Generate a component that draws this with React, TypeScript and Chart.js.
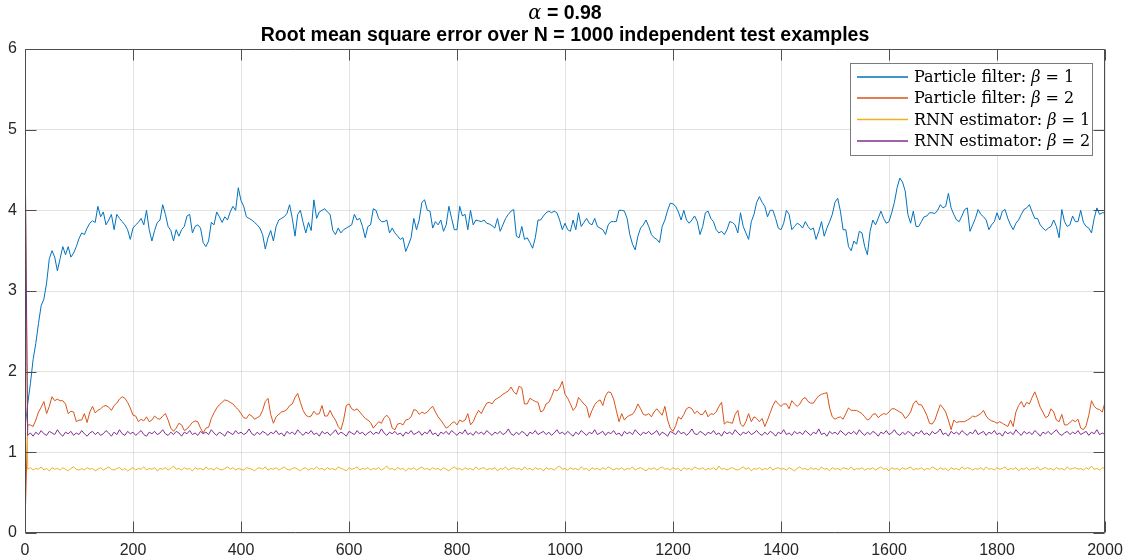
import React, { useEffect, useRef } from "react";
import { Chart, registerables } from "chart.js";

Chart.register(...registerables);

// ---------------- data ----------------
const STEP = 5; // sample spacing on the x axis (time step index)
const xTickValues = [0, 200, 400, 600, 800, 1000, 1200, 1400, 1600, 1800, 2000];
const yTickValues = [0, 1, 2, 3, 4, 5, 6];
const X_MIN = 0;
const X_MAX = 2000;
const Y_MIN = 0;
const Y_MAX = 6;

const titleSymbol = "α";
const titleRest = " = 0.98";
const titleLine2 = "Root mean square error over N = 1000 independent test examples";

const seriesNames = ["Particle filter: ", "Particle filter: ", "RNN estimator: ", "RNN estimator: "];
const seriesSymbol = ["β", "β", "β", "β"];
const seriesSuffix = [" = 1", " = 2", " = 1", " = 2"];
const seriesColors = ["#0072BD", "#D95319", "#EDB120", "#7E2F8E"];

const pfBeta1 = [
  1.3, 1.6, 1.85, 2.15, 2.35, 2.6, 2.82, 2.9, 3.1, 3.4,
  3.5, 3.42, 3.25, 3.4, 3.55, 3.45, 3.55, 3.42, 3.47, 3.55,
  3.65, 3.72, 3.7, 3.78, 3.84, 3.87, 3.85, 4.05, 3.92, 3.98,
  3.82, 3.88, 3.95, 3.76, 3.95, 3.9, 3.86, 3.82, 3.76, 3.64,
  3.78, 3.82, 3.85, 3.9, 3.82, 4.0, 3.76, 3.62, 3.75, 3.85,
  3.88, 4.07, 3.95, 3.8, 3.75, 3.62, 3.76, 3.68, 3.76, 3.8,
  3.93, 3.95, 3.72, 3.8, 3.82, 3.78, 3.6, 3.55, 3.62, 3.85,
  3.82, 3.98, 3.92, 3.85, 3.92, 3.88, 3.98, 4.05, 4.0, 4.28,
  4.12, 4.05, 3.92, 3.9, 3.88, 3.85, 3.82, 3.78, 3.7, 3.52,
  3.66, 3.75, 3.62, 3.8, 3.88, 3.9, 3.92, 3.96, 4.07, 3.9,
  3.68, 3.95, 4.0, 3.85, 3.72, 3.85, 3.75, 4.13, 3.9, 3.98,
  4.0, 4.02, 3.98, 3.95, 3.75, 3.7, 3.78, 3.72, 3.76, 3.78,
  3.8, 3.82, 3.95, 3.88, 3.9, 3.8, 3.66, 3.8, 3.82, 4.02,
  4.0, 3.9, 3.86, 3.86, 3.88, 3.72, 3.78, 3.72, 3.68, 3.64,
  3.66, 3.49, 3.57, 3.66, 3.9, 3.76, 3.88, 4.1, 4.13, 4.0,
  3.99, 3.78, 3.86, 3.82, 3.88, 3.74, 3.82, 4.05, 3.9, 3.76,
  3.76, 4.05, 3.93, 3.95, 3.76, 4.0, 3.82, 3.88, 3.87, 3.86,
  3.88, 3.84, 3.83, 3.81, 3.78, 3.9, 3.74, 3.82, 3.9, 3.95,
  3.99, 4.01, 3.68, 3.66, 3.8, 3.64, 3.66, 3.6, 3.53, 3.66,
  3.88, 3.88, 3.93, 3.97, 3.99, 3.97, 3.99, 3.97, 3.88, 3.76,
  3.84, 3.76, 3.74, 3.88, 3.76, 3.97, 3.8, 3.85, 3.9, 3.84,
  3.82, 3.9, 3.8, 3.78, 3.76, 3.7, 3.82, 3.86, 3.86, 3.86,
  4.0, 4.0, 3.99, 3.9, 3.7, 3.58, 3.51, 3.68, 3.78, 3.82,
  3.88, 3.8, 3.7, 3.66, 3.64, 3.6, 3.8, 3.88, 4.0, 4.09,
  4.08, 4.05, 3.98, 3.88, 4.0, 3.88, 3.84, 3.88, 3.93, 3.86,
  3.7, 3.8, 3.97, 3.99, 3.9, 3.86, 3.76, 3.72, 3.74, 3.7,
  3.76, 3.86, 3.85, 3.82, 3.72, 3.97, 3.8, 3.72, 3.64, 3.86,
  3.95, 4.1, 4.17, 4.1, 4.05, 3.92, 4.0, 4.0, 3.9, 3.78,
  3.76, 3.84, 4.0, 3.95, 3.76, 3.8, 3.84, 3.82, 3.78, 3.86,
  3.8, 3.76, 3.78, 3.64, 3.74, 3.86, 3.68, 3.78, 3.86, 3.95,
  4.1, 4.15, 3.99, 3.76, 3.76, 3.55, 3.5, 3.62, 3.58, 3.74,
  3.72, 3.55, 3.45, 3.74, 3.88, 3.82, 3.9, 3.99, 3.9, 3.84,
  3.86, 3.97, 4.1, 4.28, 4.4, 4.35, 4.24, 3.95, 3.84, 3.99,
  3.8, 3.8, 3.86, 3.92, 3.93, 3.97, 3.97, 3.96, 4.0, 4.07,
  4.03, 4.05, 4.21, 4.03, 3.95, 3.88, 3.86, 3.93, 4.01, 4.03,
  3.74, 3.82, 3.9, 4.01, 3.95, 3.92, 3.88, 3.76, 3.82, 3.86,
  3.97, 3.88, 3.99, 4.01, 3.9, 3.82, 3.76, 3.84, 3.88, 3.95,
  4.01, 4.03, 4.07, 3.98, 3.9, 3.9, 3.82, 3.78, 3.75, 3.78,
  3.8, 3.88, 3.8, 3.66, 4.01, 3.86, 3.8, 3.82, 3.93, 3.86,
  3.86, 4.0, 3.85, 3.8, 3.78, 3.72, 3.9, 4.03, 3.95, 3.97,
  3.97,
];

const pfBeta2 = [
  0.1, 1.34, 1.34, 1.32, 1.4, 1.5, 1.56, 1.63, 1.48, 1.57,
  1.69, 1.64, 1.66, 1.64, 1.64, 1.6, 1.48, 1.51, 1.5, 1.38,
  1.4, 1.4, 1.48, 1.37, 1.5, 1.57, 1.49, 1.52, 1.54, 1.57,
  1.58, 1.56, 1.52, 1.58, 1.61, 1.66, 1.69, 1.67, 1.62, 1.55,
  1.46, 1.45, 1.38, 1.41, 1.39, 1.44, 1.38, 1.4, 1.45, 1.42,
  1.41, 1.45, 1.48, 1.4, 1.3, 1.26, 1.3, 1.36, 1.34, 1.27,
  1.29, 1.33, 1.37, 1.39, 1.38, 1.3, 1.24, 1.3, 1.31, 1.42,
  1.49, 1.55, 1.59, 1.62, 1.65, 1.64, 1.62, 1.6, 1.56, 1.53,
  1.48, 1.43, 1.42, 1.47, 1.45, 1.41, 1.43, 1.45, 1.52, 1.63,
  1.67, 1.47, 1.36, 1.44, 1.47, 1.5, 1.51, 1.53, 1.58, 1.6,
  1.68, 1.73, 1.62, 1.52, 1.46, 1.44, 1.45, 1.51, 1.47, 1.48,
  1.58, 1.45, 1.45, 1.52, 1.45, 1.4, 1.32, 1.28, 1.4, 1.58,
  1.6, 1.54, 1.52, 1.54, 1.5, 1.46, 1.42, 1.4, 1.37, 1.3,
  1.34, 1.38, 1.36, 1.43, 1.46, 1.42, 1.3, 1.28, 1.35, 1.36,
  1.34, 1.4, 1.41, 1.44, 1.53, 1.52, 1.47, 1.5, 1.48, 1.5,
  1.54, 1.57, 1.5, 1.44, 1.4, 1.35, 1.3, 1.32, 1.36, 1.38,
  1.34, 1.4, 1.38, 1.4, 1.48, 1.34, 1.38, 1.46, 1.52, 1.48,
  1.55, 1.61, 1.62, 1.6, 1.65, 1.67, 1.69, 1.72, 1.74, 1.76,
  1.81, 1.75, 1.72, 1.82, 1.8, 1.6, 1.6, 1.67, 1.65, 1.63,
  1.62, 1.5, 1.52, 1.6, 1.62, 1.69, 1.78, 1.76, 1.8, 1.88,
  1.72, 1.67, 1.6, 1.52, 1.56, 1.68, 1.64, 1.6, 1.57, 1.43,
  1.52, 1.59, 1.63, 1.65, 1.58, 1.7, 1.75, 1.74, 1.66, 1.52,
  1.38, 1.48, 1.4, 1.44, 1.46, 1.47, 1.52, 1.6, 1.54, 1.47,
  1.46, 1.48, 1.44, 1.5, 1.54, 1.5, 1.46, 1.57, 1.4, 1.3,
  1.26, 1.33, 1.44, 1.41, 1.47, 1.54, 1.56, 1.54, 1.48, 1.51,
  1.47, 1.47, 1.52, 1.44, 1.48, 1.47, 1.5, 1.57, 1.62, 1.35,
  1.38, 1.37, 1.36, 1.47, 1.52, 1.35, 1.32, 1.38, 1.48, 1.38,
  1.44, 1.42, 1.38, 1.42, 1.32, 1.4, 1.49, 1.58, 1.64, 1.6,
  1.57, 1.6, 1.6, 1.54, 1.64, 1.6, 1.57, 1.6, 1.66, 1.68,
  1.63, 1.61, 1.61, 1.66, 1.7, 1.72, 1.73, 1.74, 1.55, 1.44,
  1.41, 1.43, 1.44, 1.41, 1.48, 1.55, 1.52, 1.52, 1.52, 1.5,
  1.48, 1.44, 1.4, 1.42, 1.47, 1.48, 1.43, 1.46, 1.48, 1.47,
  1.5, 1.54, 1.54, 1.52, 1.5, 1.48, 1.42, 1.45, 1.5, 1.6,
  1.64, 1.59, 1.59, 1.53, 1.46, 1.36, 1.35, 1.4, 1.5, 1.59,
  1.55, 1.5, 1.4, 1.28, 1.4, 1.37, 1.38, 1.38, 1.38, 1.4,
  1.42, 1.45, 1.44, 1.46, 1.48, 1.52, 1.45, 1.41, 1.39, 1.38,
  1.36, 1.38, 1.36, 1.34, 1.32, 1.4, 1.32, 1.5, 1.58, 1.63,
  1.56, 1.62, 1.6, 1.68, 1.75, 1.66, 1.56, 1.5, 1.43, 1.45,
  1.54, 1.5, 1.4, 1.38, 1.47, 1.34, 1.34, 1.37, 1.4, 1.38,
  1.41, 1.3, 1.28, 1.33, 1.46, 1.64, 1.57, 1.54, 1.53, 1.5,
  1.62,
];

const rnnBeta1 = [
  5.05,
  0.79, 0.81, 0.78, 0.8, 0.79, 0.82, 0.78, 0.8, 0.77, 0.81,
  0.79, 0.8, 0.78, 0.81, 0.79, 0.77, 0.8, 0.82, 0.79, 0.78,
  0.8, 0.78, 0.81, 0.79, 0.8, 0.77, 0.79, 0.81, 0.78, 0.8,
  0.82, 0.79, 0.78, 0.8, 0.81, 0.78, 0.8, 0.77, 0.79, 0.81,
  0.78, 0.8, 0.79, 0.82, 0.78, 0.8, 0.79, 0.81, 0.77, 0.8,
  0.79, 0.81, 0.78, 0.8, 0.83, 0.79, 0.8, 0.78, 0.81, 0.79,
  0.8, 0.77, 0.81, 0.79, 0.8, 0.78, 0.82, 0.79, 0.8, 0.78,
  0.81, 0.79, 0.78, 0.8, 0.82, 0.79, 0.81, 0.78, 0.8, 0.79,
  0.78, 0.81, 0.8, 0.79, 0.77, 0.8, 0.81, 0.79, 0.82, 0.78,
  0.8, 0.79, 0.81, 0.78, 0.8, 0.82, 0.79, 0.78, 0.8, 0.81,
  0.79, 0.77, 0.8, 0.81, 0.78, 0.8, 0.79, 0.82, 0.79, 0.8,
  0.78, 0.81, 0.79, 0.8, 0.78, 0.82, 0.8, 0.79, 0.77, 0.81,
  0.79, 0.8, 0.82, 0.78, 0.8, 0.79, 0.81, 0.78, 0.8, 0.79,
  0.81, 0.78, 0.8, 0.83, 0.79, 0.8, 0.78, 0.81, 0.79, 0.8,
  0.77, 0.8, 0.79, 0.81, 0.78, 0.8, 0.82, 0.79, 0.8, 0.78,
  0.81, 0.79, 0.8, 0.78, 0.81, 0.79, 0.77, 0.8, 0.82, 0.79,
  0.8, 0.78, 0.81, 0.79, 0.8, 0.78, 0.82, 0.79, 0.8, 0.81,
  0.78, 0.8, 0.79, 0.81, 0.77, 0.8, 0.79, 0.82, 0.78, 0.8,
  0.81, 0.79, 0.8, 0.78, 0.82, 0.79, 0.8, 0.78, 0.81, 0.79,
  0.8, 0.77, 0.81, 0.79, 0.8, 0.78, 0.81, 0.83, 0.79, 0.8,
  0.78, 0.81, 0.79, 0.8, 0.78, 0.82, 0.79, 0.8, 0.77, 0.81,
  0.79, 0.8, 0.78, 0.81, 0.79, 0.82, 0.8, 0.78, 0.8, 0.79,
  0.81, 0.78, 0.8, 0.79, 0.82, 0.78, 0.8, 0.81, 0.79, 0.77,
  0.8, 0.79, 0.81, 0.78, 0.8, 0.82, 0.79, 0.8, 0.78, 0.81,
  0.79, 0.8, 0.77, 0.81, 0.79, 0.8, 0.78, 0.82, 0.8, 0.79,
  0.81, 0.78, 0.8, 0.79, 0.81, 0.78, 0.83, 0.79, 0.8, 0.78,
  0.8, 0.81, 0.79, 0.78, 0.8, 0.82, 0.79, 0.81, 0.77, 0.8,
  0.79, 0.81, 0.78, 0.8, 0.79, 0.82, 0.78, 0.8, 0.81, 0.79,
  0.8, 0.78, 0.81, 0.79, 0.77, 0.8, 0.82, 0.79, 0.8, 0.78,
  0.81, 0.79, 0.8, 0.78, 0.82, 0.79, 0.8, 0.77, 0.81, 0.79,
  0.8, 0.78, 0.81, 0.8, 0.79, 0.82, 0.78, 0.8, 0.79, 0.81,
  0.78, 0.8, 0.79, 0.81, 0.78, 0.8, 0.82, 0.79, 0.8, 0.77,
  0.81, 0.79, 0.8, 0.78, 0.81, 0.79, 0.8, 0.82, 0.78, 0.8,
  0.79, 0.81, 0.78, 0.8, 0.79, 0.82, 0.8, 0.78, 0.81, 0.79,
  0.8, 0.77, 0.81, 0.79, 0.8, 0.78, 0.82, 0.79, 0.81, 0.8,
  0.78, 0.8, 0.79, 0.81, 0.78, 0.82, 0.79, 0.8, 0.78, 0.81,
  0.79, 0.8, 0.82, 0.78, 0.8, 0.79, 0.81, 0.77, 0.8, 0.79,
  0.81, 0.78, 0.8, 0.79, 0.82, 0.78, 0.8, 0.81, 0.79, 0.8,
  0.78, 0.81, 0.79, 0.8, 0.78, 0.82, 0.79, 0.8, 0.81, 0.79,
  0.8, 0.78, 0.81, 0.79, 0.83, 0.79, 0.8, 0.78, 0.81, 0.8,
];

const rnnBeta2 = [
  4.9,
  1.21, 1.24, 1.2, 1.25, 1.22, 1.27, 1.23, 1.21, 1.26, 1.24,
  1.22, 1.28, 1.23, 1.2, 1.25, 1.23, 1.26, 1.21, 1.24, 1.22,
  1.27, 1.23, 1.2, 1.24, 1.26, 1.22, 1.25, 1.21, 1.23, 1.27,
  1.24, 1.2, 1.25, 1.22, 1.28, 1.23, 1.21, 1.26, 1.23, 1.25,
  1.21, 1.24, 1.27, 1.22, 1.2, 1.25, 1.23, 1.26, 1.22, 1.24,
  1.28, 1.23, 1.21, 1.25, 1.22, 1.26, 1.24, 1.2, 1.25, 1.23,
  1.27, 1.22, 1.24, 1.21, 1.26, 1.23, 1.25, 1.22, 1.28, 1.24,
  1.21, 1.25, 1.23, 1.2, 1.26, 1.24, 1.22, 1.27, 1.23, 1.25,
  1.22, 1.24, 1.29, 1.23, 1.21, 1.25, 1.22, 1.26, 1.24, 1.21,
  1.25, 1.23, 1.27, 1.22, 1.24, 1.2, 1.26, 1.23, 1.25, 1.22,
  1.28, 1.24, 1.21, 1.25, 1.23, 1.27, 1.22, 1.24, 1.2, 1.26,
  1.23, 1.25, 1.21, 1.24, 1.28, 1.22, 1.25, 1.23, 1.2, 1.26,
  1.24, 1.22, 1.27, 1.23, 1.25, 1.21, 1.24, 1.26, 1.22, 1.25,
  1.23, 1.29, 1.24, 1.21, 1.25, 1.23, 1.26, 1.22, 1.24, 1.2,
  1.25, 1.23, 1.27, 1.22, 1.24, 1.26, 1.21, 1.25, 1.23, 1.28,
  1.22, 1.24, 1.2, 1.25, 1.23, 1.26, 1.22, 1.27, 1.24, 1.21,
  1.25, 1.23, 1.28, 1.22, 1.24, 1.21, 1.26, 1.23, 1.25, 1.22,
  1.27, 1.24, 1.21, 1.25, 1.23, 1.26, 1.22, 1.24, 1.29, 1.23,
  1.21, 1.25, 1.22, 1.26, 1.24, 1.2, 1.25, 1.23, 1.27, 1.22,
  1.24, 1.26, 1.22, 1.25, 1.21, 1.24, 1.28, 1.23, 1.25, 1.22,
  1.26, 1.23, 1.2, 1.25, 1.22, 1.27, 1.24, 1.21, 1.25, 1.23,
  1.28, 1.22, 1.24, 1.26, 1.21, 1.25, 1.23, 1.27, 1.22, 1.24,
  1.2, 1.26, 1.23, 1.25, 1.22, 1.28, 1.24, 1.21, 1.25, 1.23,
  1.26, 1.22, 1.24, 1.27, 1.21, 1.25, 1.23, 1.2, 1.26, 1.24,
  1.22, 1.27, 1.23, 1.25, 1.21, 1.24, 1.29, 1.23, 1.22, 1.26,
  1.24, 1.21, 1.25, 1.23, 1.27, 1.22, 1.24, 1.2, 1.26, 1.23,
  1.25, 1.22, 1.28, 1.24, 1.21, 1.25, 1.23, 1.26, 1.22, 1.24,
  1.27, 1.23, 1.21, 1.25, 1.22, 1.26, 1.24, 1.2, 1.25, 1.23,
  1.28, 1.22, 1.24, 1.21, 1.26, 1.23, 1.25, 1.22, 1.27, 1.24,
  1.21, 1.25, 1.23, 1.29, 1.22, 1.24, 1.2, 1.26, 1.23, 1.25,
  1.22, 1.27, 1.24, 1.21, 1.25, 1.23, 1.26, 1.22, 1.28, 1.24,
  1.21, 1.25, 1.22, 1.26, 1.24, 1.2, 1.25, 1.23, 1.27, 1.22,
  1.24, 1.28, 1.23, 1.21, 1.25, 1.22, 1.26, 1.24, 1.2, 1.25,
  1.23, 1.27, 1.22, 1.24, 1.21, 1.26, 1.23, 1.25, 1.29, 1.22,
  1.24, 1.2, 1.26, 1.23, 1.25, 1.22, 1.27, 1.24, 1.21, 1.25,
  1.23, 1.28, 1.22, 1.24, 1.26, 1.21, 1.25, 1.23, 1.27, 1.22,
  1.24, 1.2, 1.26, 1.23, 1.25, 1.22, 1.28, 1.24, 1.21, 1.26,
  1.23, 1.25, 1.22, 1.27, 1.24, 1.2, 1.25, 1.23, 1.26, 1.22,
  1.25, 1.28, 1.23, 1.21, 1.24, 1.26, 1.22, 1.25, 1.23, 1.27,
  1.22, 1.24, 1.26, 1.21, 1.25, 1.23, 1.28, 1.22, 1.24, 1.22,
];

const seriesValues = [pfBeta1, pfBeta2, rnnBeta1, rnnBeta2];

// ---------------- styling ----------------
const TEXT_COLOR = "#262626";
const AXIS_COLOR = "#4d4d4d";
const GRID_COLOR = "rgba(38,38,38,0.13)";
const SANS = "'Liberation Sans', Arial, Helvetica, sans-serif";
const SERIF = "'DejaVu Serif', 'Liberation Serif', serif";
const TICK_LEN = 11;
const TITLE_SIZE = 19.5;

const decorPlugin = {
  id: "matlabDecor",
  afterDraw(chart: any) {
    const ctx = chart.ctx as CanvasRenderingContext2D;
    const { left, right, top, bottom } = chart.chartArea;
    const xs = chart.scales.x;
    const ys = chart.scales.y;
    ctx.save();

    // axes box + inward ticks
    ctx.strokeStyle = AXIS_COLOR;
    ctx.lineWidth = 1;
    const L = Math.round(left) + 0.5;
    const R = Math.round(right) - 0.5;
    const T = Math.round(top) + 0.5;
    const B = Math.round(bottom) - 0.5;
    ctx.beginPath();
    ctx.rect(L, T, R - L, B - T);
    xTickValues.forEach((v) => {
      const px = Math.round(xs.getPixelForValue(v)) + 0.5;
      ctx.moveTo(px, B);
      ctx.lineTo(px, B - TICK_LEN);
      ctx.moveTo(px, T);
      ctx.lineTo(px, T + TICK_LEN);
    });
    yTickValues.forEach((v) => {
      const py = Math.round(ys.getPixelForValue(v)) + 0.5;
      ctx.moveTo(L, py);
      ctx.lineTo(L + TICK_LEN, py);
      ctx.moveTo(R, py);
      ctx.lineTo(R - TICK_LEN, py);
    });
    ctx.stroke();

    // title
    const cx = (left + right) / 2;
    ctx.fillStyle = "#000";
    ctx.textBaseline = "alphabetic";
    ctx.textAlign = "left";
    const symFont = `italic ${TITLE_SIZE}px ${SERIF}`;
    const restFont = `bold ${TITLE_SIZE}px ${SANS}`;
    ctx.font = symFont;
    const wSym = ctx.measureText(titleSymbol).width;
    ctx.font = restFont;
    const wRest = ctx.measureText(titleRest).width;
    const x0 = cx - (wSym + wRest) / 2;
    ctx.font = symFont;
    ctx.fillText(titleSymbol, x0, 19);
    ctx.font = restFont;
    ctx.fillText(titleRest, x0 + wSym, 19);
    ctx.textAlign = "center";
    ctx.fillText(titleLine2, cx, 41);

    // legend
    const bx = 850.5, by = 63.5, bw = 242, bh = 92;
    ctx.fillStyle = "#fff";
    ctx.fillRect(bx, by, bw, bh);
    ctx.strokeStyle = "#7a7a7a";
    ctx.lineWidth = 1;
    ctx.strokeRect(bx, by, bw, bh);
    const rowY = [77, 98, 119.5, 141];
    ctx.textAlign = "left";
    ctx.textBaseline = "middle";
    seriesNames.forEach((name, i) => {
      const y = rowY[i];
      ctx.strokeStyle = seriesColors[i];
      ctx.lineWidth = 1.3;
      ctx.beginPath();
      ctx.moveTo(857, y);
      ctx.lineTo(908, y);
      ctx.stroke();
      ctx.fillStyle = "#000";
      let tx = 914;
      ctx.font = `16px ${SERIF}`;
      ctx.fillText(name, tx, y + 1);
      tx += ctx.measureText(name).width;
      ctx.font = `italic 16px ${SERIF}`;
      ctx.fillText(seriesSymbol[i], tx, y + 1);
      tx += ctx.measureText(seriesSymbol[i]).width;
      ctx.font = `16px ${SERIF}`;
      ctx.fillText(seriesSuffix[i], tx, y + 1);
    });
    ctx.restore();
  },
};

export default function App() {
  const canvasRef = useRef<HTMLCanvasElement | null>(null);

  useEffect(() => {
    const canvas = canvasRef.current;
    if (!canvas) return;
    const datasets = seriesValues.map((vals, i) => ({
      label: seriesNames[i] + seriesSymbol[i] + seriesSuffix[i],
      data: vals.map((v, k) => ({ x: k * STEP, y: v })),
      borderColor: seriesColors[i],
      backgroundColor: seriesColors[i],
      borderWidth: 1,
      pointRadius: 0,
      tension: 0,
      fill: false,
      order: 4 - i,
    }));
    const chart = new Chart(canvas, {
      type: "line",
      data: { datasets },
      options: {
        animation: false,
        responsive: false,
        devicePixelRatio: 1,
        parsing: false,
        layout: { padding: { top: 49, right: 19, left: 0, bottom: 0 } },
        plugins: {
          legend: { display: false },
          title: { display: false },
          tooltip: { enabled: false },
        },
        scales: {
          x: {
            type: "linear",
            min: X_MIN,
            max: X_MAX,
            afterBuildTicks: (s: any) => {
              s.ticks = xTickValues.map((v) => ({ value: v }));
            },
            afterFit: (s: any) => {
              s.height = 27;
              s.paddingLeft = 0;
              s.paddingRight = 0;
            },
            ticks: {
              color: TEXT_COLOR,
              font: { family: SANS, size: 16 },
              padding: 8,
              maxRotation: 0,
              autoSkip: false,
              callback: (v: any) => String(v),
            },
            grid: { color: GRID_COLOR, drawTicks: false, lineWidth: 1 },
            border: { display: false },
          },
          y: {
            type: "linear",
            min: Y_MIN,
            max: Y_MAX,
            afterBuildTicks: (s: any) => {
              s.ticks = yTickValues.map((v) => ({ value: v }));
            },
            afterFit: (s: any) => {
              s.width = 25;
              s.paddingTop = 0;
              s.paddingBottom = 0;
            },
            ticks: {
              color: TEXT_COLOR,
              font: { family: SANS, size: 16 },
              padding: 8,
              callback: (v: any) => String(v),
            },
            grid: { color: GRID_COLOR, drawTicks: false, lineWidth: 1 },
            border: { display: false },
          },
        },
      },
      plugins: [decorPlugin],
    } as any);
    return () => chart.destroy();
  }, []);

  return (
    <div
      style={{
        position: "fixed",
        left: 0,
        top: 0,
        width: 1124,
        height: 560,
        background: "#fff",
      }}
    >
      <canvas ref={canvasRef} width={1124} height={560} style={{ display: "block" }} />
    </div>
  );
}
